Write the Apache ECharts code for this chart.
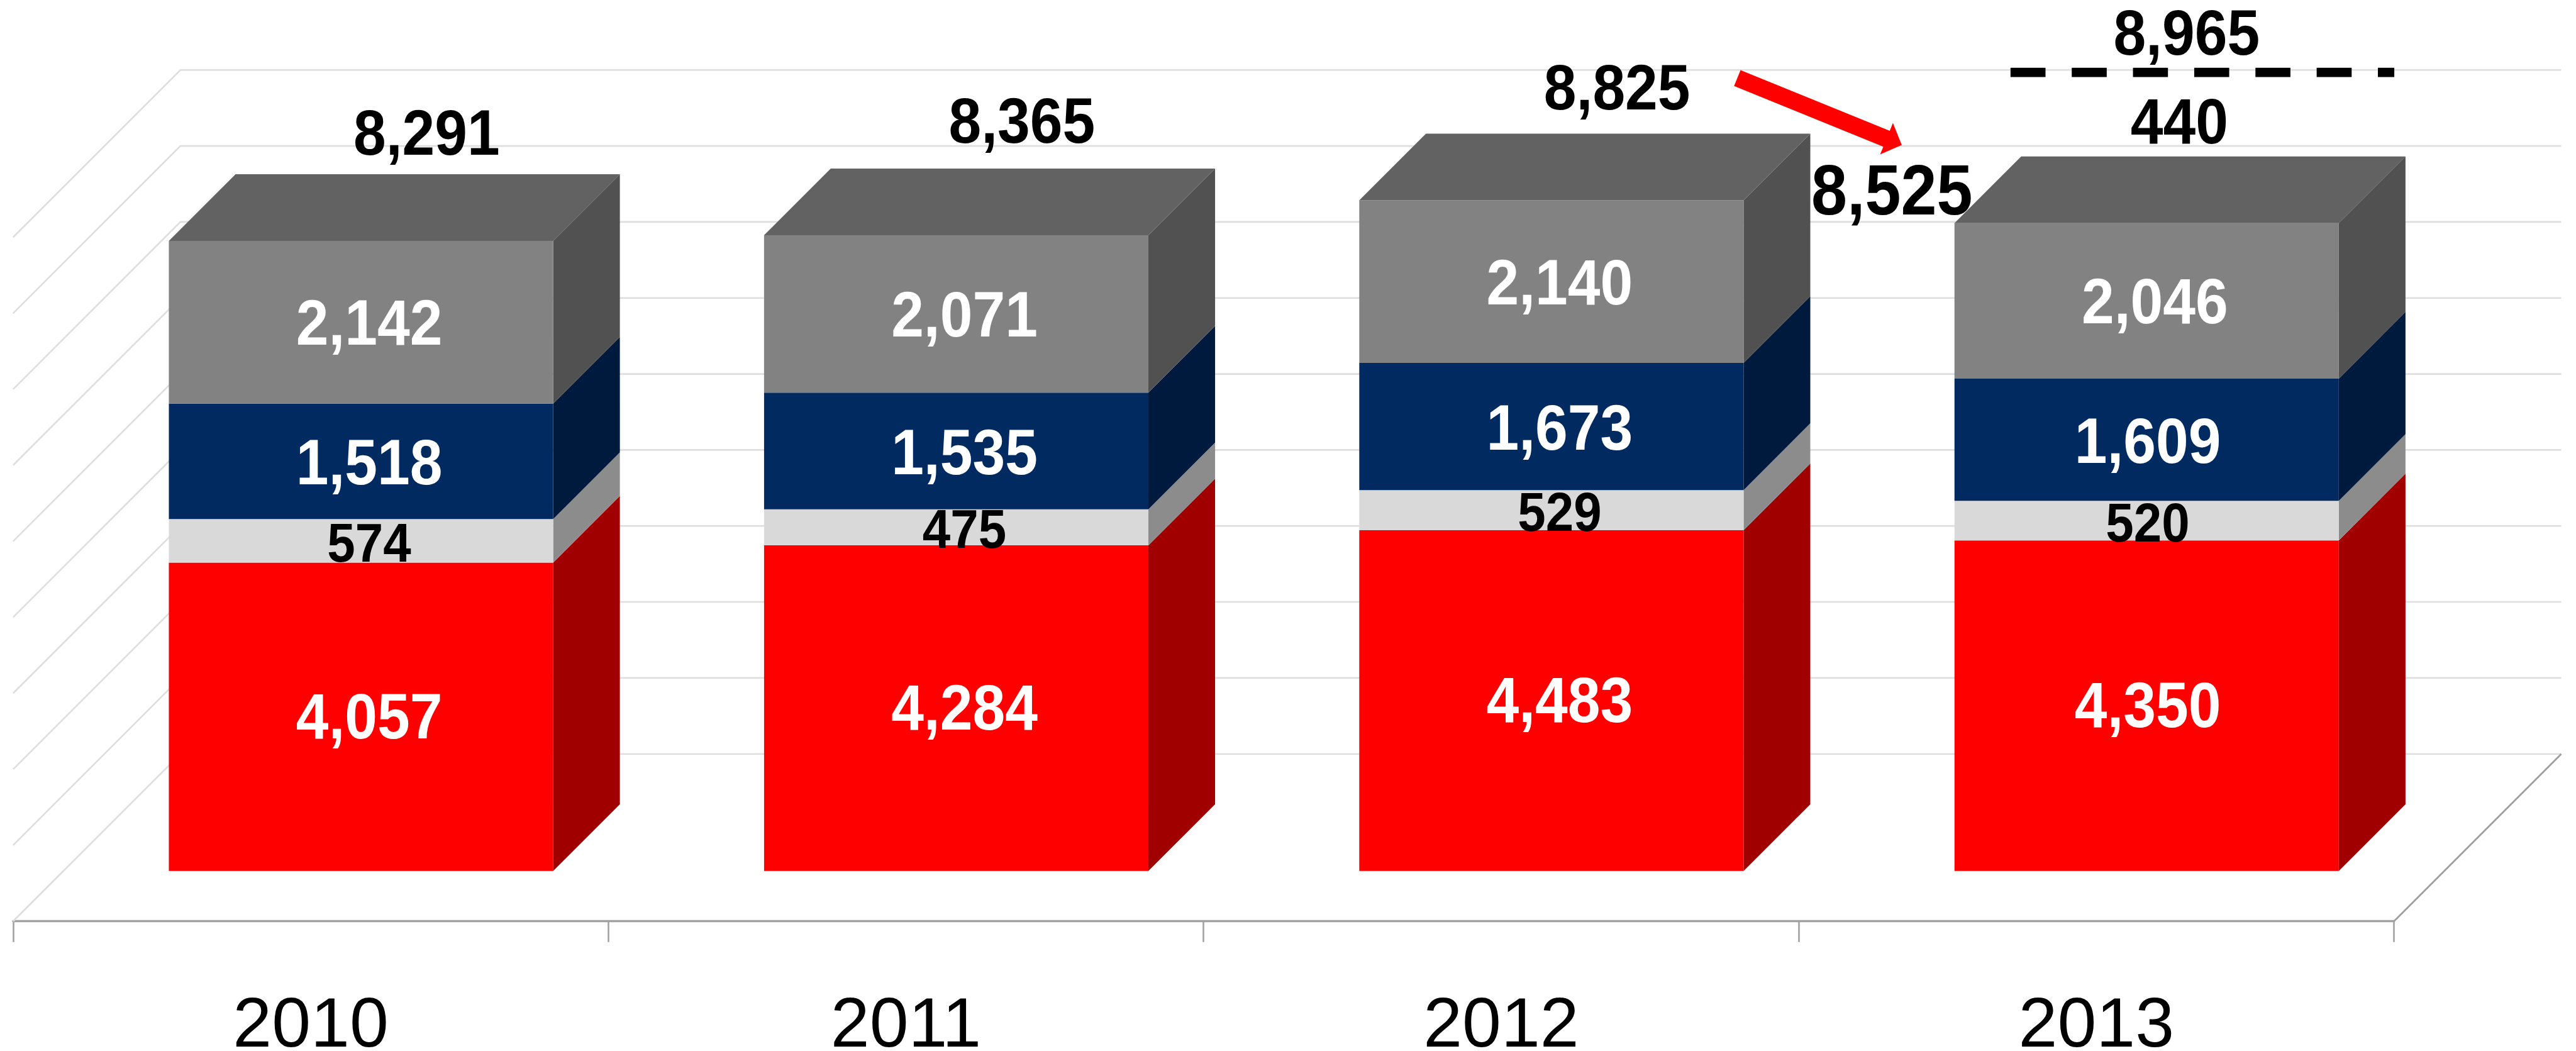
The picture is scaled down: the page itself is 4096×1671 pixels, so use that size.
<!DOCTYPE html>
<html><head><meta charset="utf-8">
<style>html,body{margin:0;padding:0;background:#fff}#c{width:4096px;height:1671px}</style>
<script src="https://cdn.jsdelivr.net/npm/echarts@6/dist/echarts.min.js"></script>
</head><body><div id="c"></div>
<script>
const categories = ['2010','2011','2012','2013'];
const redValues = [4057,4284,4483,4350];
const lightValues = [574,475,529,520];
const navyValues = [1518,1535,1673,1609];
const grayValues = [2142,2071,2140,2046];
const totalValues = [8291,8365,8825,null];
const actual2013 = 8525;
const gap2013 = 440;
const target2013 = 8965;
const yTicks = [0,1000,2000,3000,4000,5000,6000,7000,8000,9000];

const S = 4096/4712;
const r = v => v*S;
const FLOOR = r(306), NEAR = r(92), BAR = r(122);
const totalNudgeY = [8,-4,-1];
const lowerLabelNudgeX = [0,0,0,-13];
const fmt = v => v.toLocaleString('en-US');
const FONT = '"Liberation Sans", Arial, sans-serif';

function txt(x,y,s,size,fill,sy){
  return {type:'text',x,y:y+r(7),scaleY:sy||1.1,style:{x:0,y:0,text:s,fill,font:'bold '+size+'px '+FONT,align:'center',verticalAlign:'middle'}};
}

function wallItem(params, api){
  const v = api.value(0), cs = params.coordSys;
  const y = api.coord([0,v])[1];
  const x0 = cs.x, x1 = cs.x+cs.width;
  return {type:'polyline',shape:{points:[[x0,y],[x0+FLOOR,y-FLOOR],[x1+FLOOR,y-FLOOR]]},
    style:{fill:null,stroke:'#dedede',lineWidth:r(3)}};
}
function edgeItem(params, api){
  const cs = params.coordSys, y = api.coord([0,0])[1], x1 = cs.x+cs.width;
  return {type:'line',shape:{x1:x1,y1:y,x2:x1+FLOOR,y2:y-FLOOR},style:{stroke:'#9c9c9c',lineWidth:r(3)}};
}
function segment(front, side, top){
  return function(params, api){
    const i = api.value(0), lo = api.value(1), hi = api.value(2);
    const w = api.size([1,0])[0]*0.6457;
    const a = api.coord([i,lo]), b = api.coord([i,hi]);
    const xl = a[0]+NEAR-w/2, xr = a[0]+NEAR+w/2, yl = a[1]-NEAR, yh = b[1]-NEAR;
    const kids = [
      {type:'polygon',shape:{points:[[xr,yl],[xr+BAR,yl-BAR],[xr+BAR,yh-BAR],[xr,yh]]},style:{fill:side}},
      {type:'rect',shape:{x:xl,y:yh,width:w,height:yl-yh},style:{fill:front}}
    ];
    if(top) kids.push({type:'polygon',shape:{points:[[xl,yh],[xl+BAR,yh-BAR],[xr+BAR,yh-BAR],[xr,yh]]},style:{fill:top}});
    return {type:'group',children:kids};
  };
}
function segLabels(fill, size, nudgeY, nudgeX){
  return function(params, api){
    const i = api.value(0), lo = api.value(1), hi = api.value(2);
    const p = api.coord([i,(lo+hi)/2]);
    const nx = nudgeX ? nudgeX[i] : 0;
    return txt(p[0]+NEAR+r(15+nx), p[1]-NEAR+r(nudgeY), fmt(hi-lo), r(size), fill);
  };
}
function totalItem(params, api){
  const i = api.value(0), v = api.value(1);
  const p = api.coord([i,v]);
  return txt(p[0]+NEAR+r(120), p[1]-NEAR-r(205)+r(totalNudgeY[i]), fmt(v), r(107), '#000');
}
function annotationItem(params, api){
  const a = api.coord([2,totalValues[2]]), b = api.coord([3,actual2013]), c = api.coord([3,target2013]);
  const tail = [a[0]+r(432), a[1]-r(315.5)], tip = [b[0]-r(356), b[1]-r(235)];
  const dx = tip[0]-tail[0], dy = tip[1]-tail[1], L = Math.hypot(dx,dy), ux = dx/L, uy = dy/L, nx = -uy, ny = ux;
  const hw = r(15.7), HL = r(30), HW = r(31);
  const bx = tip[0]-ux*HL, by = tip[1]-uy*HL;
  const arrow = [[tail[0]+nx*hw,tail[1]+ny*hw],[bx+nx*hw,by+ny*hw],[bx+nx*HW,by+ny*HW],tip,[bx-nx*HW,by-ny*HW],[bx-nx*hw,by-ny*hw],[tail[0]-nx*hw,tail[1]-ny*hw]];
  const dashY = c[1]-r(306.5);
  return {type:'group',children:[
    {type:'polygon',shape:{points:arrow},style:{fill:'#ff0000'}},
    {type:'line',shape:{x1:c[0]-r(157),y1:dashY,x2:c[0]+r(545),y2:dashY},style:{stroke:'#000',lineWidth:r(17),lineDash:[r(64),r(48)],lineCap:'butt'}},
    txt(b[0]-r(374), b[1]-r(151), fmt(actual2013), r(118), '#000'),
    txt(c[0]+r(165), c[1]-r(378), fmt(target2013), r(107), '#000'),
    txt(c[0]+r(152), c[1]-r(216), fmt(gap2013), r(107), '#000')
  ]};
}

let run = categories.map(()=>0);
function stack(vals){
  return vals.map((v,i)=>{const row=[i,run[i],run[i]+v]; run[i]+=v; return row;});
}
const redRows = stack(redValues), lightRows = stack(lightValues), navyRows = stack(navyValues), grayRows = stack(grayValues);
const enc = {x:0,y:[1,2]};
const custom = (data,renderItem,z,encode) => ({type:'custom',data,renderItem,z,encode,silent:true,clip:false,animation:false});

const chart = echarts.init(document.getElementById('c'),null,{renderer:'canvas'});
chart.setOption({
  animation:false,
  backgroundColor:'#ffffff',
  grid:{left:r(24),top:r(434),width:r(4355),height:r(1251),containLabel:false,outerBoundsMode:'none'},
  xAxis:{type:'category',data:categories,boundaryGap:true,
    axisLine:{show:true,lineStyle:{color:'#a2a2a2',width:r(4)}},
    axisTick:{show:true,alignWithLabel:false,length:r(38),lineStyle:{color:'#a2a2a2',width:r(3)}},
    axisLabel:{color:'#000',fontFamily:FONT,fontSize:r(128),margin:r(130),hideOverlap:false,interval:0},
    splitLine:{show:false}},
  yAxis:{type:'value',min:0,max:9000,interval:1000,show:false},
  series:[
    custom(yTicks.map(v=>[v]),wallItem,1,{y:0}),
    custom([[0]],edgeItem,2,{y:0}),
    custom(redRows,segment('#ff0000','#a10000'),5,enc),
    custom(lightRows,segment('#d9d9d9','#8c8c8c'),5,enc),
    custom(navyRows,segment('#002a60','#001a3e'),5,enc),
    custom(grayRows,segment('#828282','#515151','#626262'),5,enc),
    custom(redRows,segLabels('#fff',107,0,lowerLabelNudgeX),8,enc),
    custom(lightRows,segLabels('#000',92,3,lowerLabelNudgeX),8,enc),
    custom(navyRows,segLabels('#fff',107,3,lowerLabelNudgeX),8,enc),
    custom(grayRows,segLabels('#fff',107,2),8,enc),
    custom(totalValues.map((v,i)=>[i,v]).filter(d=>d[1]!==null),totalItem,8,{x:0,y:1}),
    custom([[3,target2013]],annotationItem,9,{x:0,y:1})
  ]
});
</script></body></html>
